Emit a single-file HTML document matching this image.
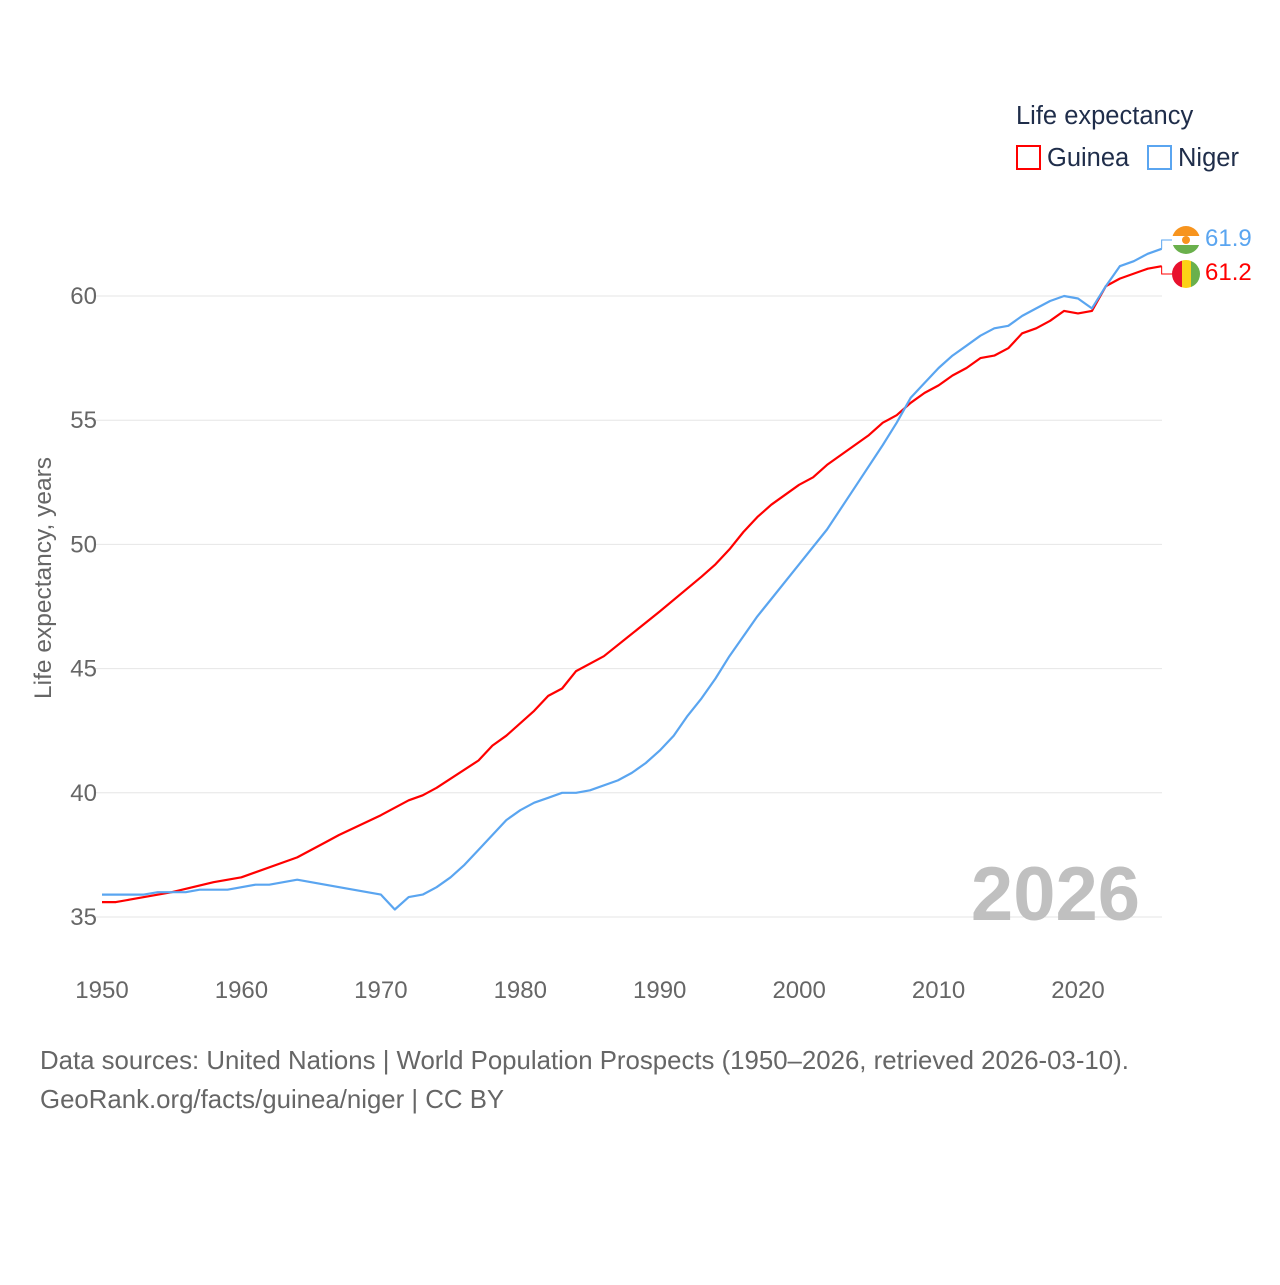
<!DOCTYPE html>
<html><head><meta charset="utf-8"><style>
body{margin:0;background:#fff;font-family:"Liberation Sans",sans-serif}
svg text{font-family:"Liberation Sans",sans-serif}
</style></head><body>
<svg id="chart" width="1280" height="1280">
<g id="grid"></g>
<g id="yticks"></g>
<g id="xticks"></g>
<text transform="translate(51,578) rotate(-90)" text-anchor="middle" font-size="24.5" fill="#666">Life expectancy, years</text>
<text x="1140" y="920" text-anchor="end" font-size="76" font-weight="bold" fill="#c0c0c0">2026</text>
<g id="series"></g>
<g>
<text x="1016" y="124" font-size="25.5" fill="#1f2d4a">Life expectancy</text>
<rect x="1017" y="146" width="23" height="23" fill="none" stroke="#ff0000" stroke-width="2"/>
<text x="1047" y="166" font-size="25.5" fill="#1f2d4a">Guinea</text>
<rect x="1148" y="146" width="23" height="23" fill="none" stroke="#5aa5f0" stroke-width="2"/>
<text x="1178" y="166" font-size="25.5" fill="#1f2d4a">Niger</text>
</g>
<g>
<g>
<clipPath id="c1"><circle cx="1186" cy="240" r="14"/></clipPath>
<g clip-path="url(#c1)"><rect x="1172" y="226" width="28" height="10" fill="#f7941e"/><rect x="1172" y="236" width="28" height="9" fill="#fff"/><rect x="1172" y="245" width="28" height="10" fill="#6ab04c"/><circle cx="1186" cy="240" r="4" fill="#f7941e"/></g>
</g>
<g>
<clipPath id="c2"><circle cx="1186" cy="274" r="14"/></clipPath>
<g clip-path="url(#c2)"><rect x="1172" y="260" width="10" height="28" fill="#e8112d"/><rect x="1182" y="260" width="9" height="28" fill="#fcd116"/><rect x="1191" y="260" width="10" height="28" fill="#6ab04c"/></g>
</g>
<text id="lblN" x="1205" y="246" font-size="24" fill="#5aa5f0">61.9</text>
<text id="lblG" x="1205" y="280" font-size="24" fill="#ff0000">61.2</text>
</g>
<text x="40" y="1069" font-size="25.8" fill="#666">Data sources: United Nations | World Population Prospects (1950–2026, retrieved 2026-03-10).</text>
<text x="40" y="1108" font-size="25.8" fill="#666">GeoRank.org/facts/guinea/niger | CC BY</text>
</svg>
<script>
const yTickValues=[35,40,45,50,55,60];
const xTickYears=[1950,1960,1970,1980,1990,2000,2010,2020];
const guineaYears=[1950,1951,1952,1955,1958,1960,1964,1966,1967,1970,1972,1973,1974,1977,1978,1979,1981,1982,1983,1984,1986,1990,1993,1994,1995,1996,1997,1998,2000,2001,2002,2005,2006,2007,2008,2009,2010,2011,2012,2013,2014,2015,2016,2017,2018,2019,2020,2021,2022,2023,2024,2025,2026];
const guineaValues=[35.6,35.6,35.7,36.0,36.4,36.6,37.4,38.0,38.3,39.1,39.7,39.9,40.2,41.3,41.9,42.3,43.3,43.9,44.2,44.9,45.5,47.3,48.7,49.2,49.8,50.5,51.1,51.6,52.4,52.7,53.2,54.4,54.9,55.2,55.7,56.1,56.4,56.8,57.1,57.5,57.6,57.9,58.5,58.7,59.0,59.4,59.3,59.4,60.4,60.7,60.9,61.1,61.2];
const nigerYears=[1950,1953,1954,1956,1957,1959,1961,1962,1964,1970,1971,1972,1973,1974,1975,1976,1977,1978,1979,1980,1981,1982,1983,1984,1985,1987,1988,1989,1990,1991,1992,1993,1994,1995,1996,1997,1998,2000,2002,2004,2006,2007,2008,2009,2010,2011,2012,2013,2014,2015,2016,2017,2018,2019,2020,2021,2022,2023,2024,2025,2026];
const nigerValues=[35.9,35.9,36.0,36.0,36.1,36.1,36.3,36.3,36.5,35.9,35.3,35.8,35.9,36.2,36.6,37.1,37.7,38.3,38.9,39.3,39.6,39.8,40.0,40.0,40.1,40.5,40.8,41.2,41.7,42.3,43.1,43.8,44.6,45.5,46.3,47.1,47.8,49.2,50.6,52.3,54.0,54.9,55.9,56.5,57.1,57.6,58.0,58.4,58.7,58.8,59.2,59.5,59.8,60.0,59.9,59.5,60.4,61.2,61.4,61.7,61.9];
const NS='http://www.w3.org/2000/svg';
const xS=y=>102+(y-1950)*(976/70);
const yS=v=>296+(60-v)*(621/25);
const g=document.getElementById('grid'),yt=document.getElementById('yticks'),xt=document.getElementById('xticks'),sr=document.getElementById('series');
function mk(t,a,p){const e=document.createElementNS(NS,t);for(const k in a)e.setAttribute(k,a[k]);p.appendChild(e);return e;}
yTickValues.forEach(v=>{
 const l=mk('line',{x1:95,x2:1162,y1:yS(v),y2:yS(v),stroke:'#e6e6e6','stroke-width':1},g);
 
 
 const t=mk('text',{x:97,y:yS(v)+8,'text-anchor':'end','font-size':24,fill:'#666'},yt);t.textContent=v;
 
 
});
xTickYears.forEach(y=>{
 const t=mk('text',{x:xS(y),y:998,'text-anchor':'middle','font-size':24,fill:'#666'},xt);t.textContent=y;
 
 
});
function line(ys,vs,c,name){
 const d=ys.map((y,i)=>(i?'L':'M')+xS(y).toFixed(1)+' '+yS(vs[i]).toFixed(1)).join(' ');
 const p=mk('path',{d:d,fill:'none',stroke:c,'stroke-width':2.2,'stroke-linejoin':'round'},sr);
 
 
 const lx=xS(ys[ys.length-1]),ly=yS(vs[vs.length-1]);
 return {lx,ly};
}
const gn=line(guineaYears,guineaValues,'#ff0000','guinea-line');
const nn=line(nigerYears,nigerValues,'#5aa5f0','niger-line');
const c1=mk('path',{d:`M${nn.lx} ${nn.ly} V240 H1172`,fill:'none',stroke:'#5aa5f0','stroke-width':1},sr);


const c2=mk('path',{d:`M${gn.lx} ${gn.ly} V274 H1172`,fill:'none',stroke:'#ff0000','stroke-width':1},sr);


document.getElementById('lblN').textContent=nigerValues[nigerValues.length-1].toFixed(1);
document.getElementById('lblG').textContent=guineaValues[guineaValues.length-1].toFixed(1);
</script>
</body></html>
